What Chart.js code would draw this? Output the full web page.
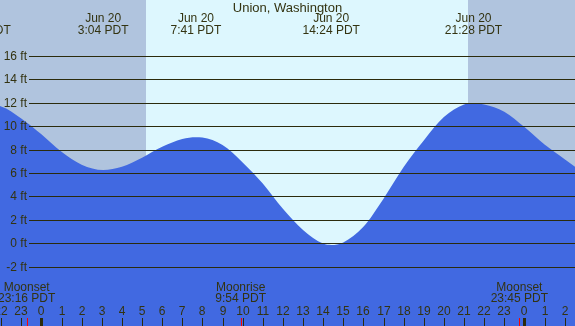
<!DOCTYPE html>
<html>
<head>
<meta charset="utf-8">
<script src="https://cdn.jsdelivr.net/npm/chart.js@4.4.1/dist/chart.umd.min.js"></script>
<style>
html, body { margin: 0; padding: 0; background: #ffffff; }
#tide_wrap { position: relative; width: 575px; height: 326px; }
</style>
</head>
<body>
<div id="tide_wrap"><canvas id="tide_chart"></canvas></div>
<script>
// hours relative to Jun 20 00:00 PDT, heights in ft
const tide_hours = [-2.95, -2, -1, 0, 1, 2, 3.07, 4, 5, 6, 7, 7.68, 8, 9, 10, 11, 12, 13, 14, 14.4,
    15, 16, 17, 18, 19, 20, 21, 21.47, 22, 23, 24, 25, 26, 27];
const tide_heights = [11.85, 11.68, 10.65, 9.30, 7.80, 6.70, 6.25, 6.52, 7.30, 8.23, 8.90, 9.05,
    9.02, 8.39, 6.90, 5.10, 2.94, 1.14, -0.03, -0.15, 0.07, 1.40, 3.80, 6.50, 8.78, 10.77, 11.84, 11.95,
    11.85, 11.23, 9.92, 8.42, 7.18, 5.90];

// high / low tide times shown along the top
const extreme_hours = [-2.95, 3.07, 7.68, 14.4, 21.47];
const extreme_days = ['Jun 19', 'Jun 20', 'Jun 20', 'Jun 20', 'Jun 20'];
const extreme_times = ['21:03 PDT', '3:04 PDT', '7:41 PDT', '14:24 PDT', '21:28 PDT'];

// moon events along the bottom
const moon_hours = [-0.733, 9.9, 23.75];
const moon_names = ['Moonset', 'Moonrise', 'Moonset'];
const moon_times = ['23:16 PDT', '9:54 PDT', '23:45 PDT'];

// night shading (sunrise 5:13, sunset 21:12)
const night_bands = [[-3, 5.22], [21.2, 27]];

const y_tick_values = [-2, 0, 2, 4, 6, 8, 10, 12, 14, 16];
const y_tick_labels = ['-2 ft', '0 ft', '2 ft', '4 ft', '6 ft', '8 ft', '10 ft', '12 ft', '14 ft', '16 ft'];

const hour_tick_values = [-2, -1, 0, 1, 2, 3, 4, 5, 6, 7, 8, 9, 10, 11, 12, 13, 14, 15, 16, 17, 18, 19, 20,
    21, 22, 23, 24, 25, 26];
const hour_tick_labels = ['22', '23', '0', '1', '2', '3', '4', '5', '6', '7', '8', '9', '10', '11', '12', '13',
    '14', '15', '16', '17', '18', '19', '20', '21', '22', '23', '0', '1', '2'];

const chart_title = 'Union, Washington';

const tide_palette = {
    day: '#ddf7fe',
    night: '#b0c4de',
    water: '#4169e1',
    grid: '#2b2b0c',
    text: '#333311',
    moon_tick: '#ff0000',
};

const tide_font = "'Liberation Sans', Arial, sans-serif";

function tide_text(ctx, str, x, y, size, align) {
    ctx.font = size + 'px ' + tide_font;
    ctx.textAlign = align || 'center';
    ctx.textBaseline = 'middle';
    ctx.fillText(str, x, y);
}

const tide_decor_plugin = {
    id: 'tide_decor',
    beforeDatasetsDraw(chart) {
        const ctx = chart.ctx;
        const x_scale = chart.scales.x;
        const area = chart.chartArea;

        ctx.save();
        ctx.fillStyle = tide_palette.day;
        ctx.fillRect(area.left, area.top, area.right - area.left, area.bottom - area.top);

        ctx.fillStyle = tide_palette.night;
        night_bands.forEach(function (band) {
            const x0 = Math.max(area.left, x_scale.getPixelForValue(band[0]));
            const x1 = Math.min(area.right, x_scale.getPixelForValue(band[1]));
            ctx.fillRect(Math.round(x0), area.top, Math.round(x1) - Math.round(x0), area.bottom - area.top);
        });
        ctx.restore();
    },
    afterDatasetsDraw(chart) {
        const ctx = chart.ctx;
        const x_scale = chart.scales.x;
        const y_scale = chart.scales.y;
        const area = chart.chartArea;

        ctx.save();

        // horizontal height lines with labels
        ctx.strokeStyle = tide_palette.grid;
        ctx.lineWidth = 1;
        y_tick_values.forEach(function (val, idx) {
            const py = Math.round(y_scale.getPixelForValue(val)) + 0.5;
            ctx.beginPath();
            ctx.moveTo(29, py);
            ctx.lineTo(area.right, py);
            ctx.stroke();
            ctx.fillStyle = tide_palette.text;
            tide_text(ctx, y_tick_labels[idx], 27, py, 12, 'right');
        });

        // hour labels and ticks
        ctx.fillStyle = tide_palette.text;
        hour_tick_values.forEach(function (h, idx) {
            const px = Math.round(x_scale.getPixelForValue(h));
            tide_text(ctx, hour_tick_labels[idx], px, 312, 12);
            const wide = hour_tick_labels[idx] === '0';
            ctx.fillStyle = tide_palette.grid;
            ctx.fillRect(wide ? px - 1 : px, 318, wide ? 3 : 1, 8);
            ctx.fillStyle = tide_palette.text;
        });

        // moon events
        moon_hours.forEach(function (h, idx) {
            const px = x_scale.getPixelForValue(h);
            ctx.fillStyle = tide_palette.moon_tick;
            ctx.fillRect(Math.round(px), 318, 1, 8);
            ctx.fillStyle = tide_palette.text;
            tide_text(ctx, moon_names[idx], px, 288, 12);
            tide_text(ctx, moon_times[idx], px, 299, 12);
        });

        // tide extremes along the top
        ctx.fillStyle = tide_palette.text;
        extreme_hours.forEach(function (h, idx) {
            const px = x_scale.getPixelForValue(h);
            tide_text(ctx, extreme_days[idx], px, 19, 12);
            tide_text(ctx, extreme_times[idx], px, 31, 12);
        });

        tide_text(ctx, chart_title, (area.left + area.right) / 2, 8, 13);

        ctx.restore();
    },
};

const tide_points = tide_hours.map(function (h, idx) {
    return { x: h, y: tide_heights[idx] };
});

new Chart(document.getElementById('tide_chart').getContext('2d'), {
    type: 'line',
    data: {
        datasets: [
            {
                data: tide_points,
                borderWidth: 0,
                borderColor: tide_palette.water,
                backgroundColor: tide_palette.water,
                fill: 'start',
                pointRadius: 0,
                cubicInterpolationMode: 'monotone',
            },
        ],
    },
    options: {
        responsive: true,
        maintainAspectRatio: false,
        animation: false,
        layout: { padding: 0 },
        plugins: {
            legend: { display: false },
            tooltip: { enabled: false },
        },
        scales: {
            x: { type: 'linear', display: false, min: -2.057, max: 26.514 },
            y: { type: 'linear', display: false, min: -7.06, max: 20.76 },
        },
    },
    plugins: [tide_decor_plugin],
});
</script>
</body>
</html>
